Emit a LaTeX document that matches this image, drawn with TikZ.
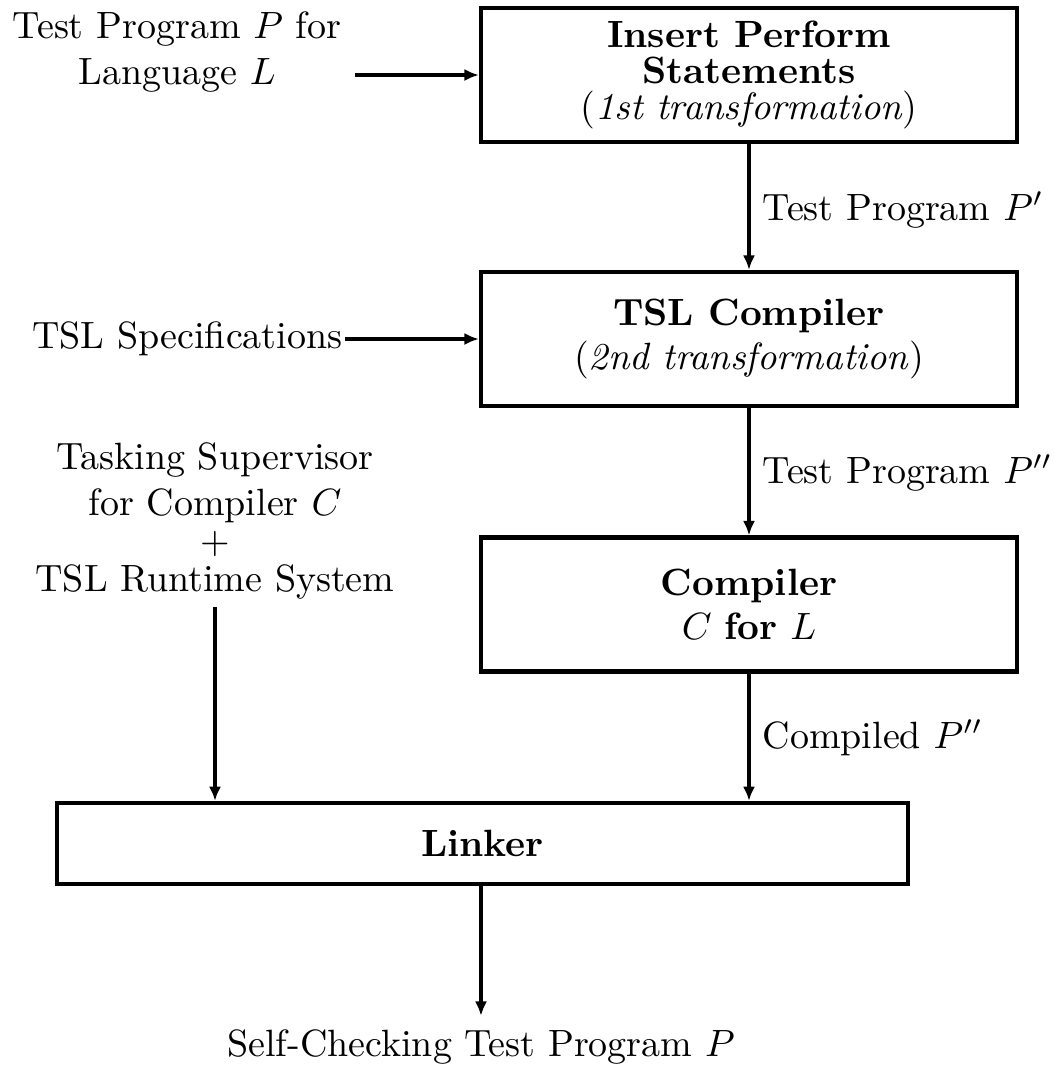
\documentclass[tikz,border=0pt]{standalone}
\usetikzlibrary{arrows.meta}
\begin{document}
\begin{tikzpicture}[x=0.2632pt,y=-0.2632pt,
  font=\fontsize{10}{12}\selectfont,
  proc/.style={draw,line width=1.1pt,minimum width=141.1pt,minimum height=35.3pt,
    align=center,inner sep=0pt},
  flow/.style={line width=1pt,-{Latex[length=3.8pt,width=3.2pt]}},
  lbl/.style={align=center}]
\useasboundingbox (0,0) rectangle (1056,1068);

% processing stages
\node[proc,font=\fontsize{10}{9.4}\selectfont] (b1) at (749,75)
  {\textbf{Insert Perform}\\\textbf{Statements}\\(\textit{1st transformation})};
\node[proc,font=\fontsize{10}{11.4}\selectfont] (b2) at (749,339)
  {\textbf{TSL Compiler}\\(\textit{2nd transformation})};
\node[proc,font=\fontsize{10}{11.4}\selectfont] (b3) at (749,604.5)
  {\textbf{Compiler}\\$C$ \textbf{for} $L$};
\node[proc,minimum width=224pt,minimum height=21.3pt] (linker) at (482.5,843.5)
  {\textbf{Linker}};

% inputs and intermediate products
\node[lbl] (src) at (177,52) {Test Program $P$ for\\Language $L$};
\node[lbl,inner sep=0.5pt,anchor=east] (spec) at (345,339) {TSL Specifications};
\node[lbl,inner sep=2pt] (task) at (215,521)
  {Tasking Supervisor\\for Compiler $C$\\[-2pt]$+$\\[-2pt]TSL Runtime System};
\node[anchor=west,inner sep=0pt] (p1) at (762,210) {Test Program $P'$};
\node[anchor=west,inner sep=0pt] (p2) at (762,473) {Test Program $P''$};
\node[anchor=west,inner sep=0pt] (p3) at (762,738) {Compiled $P''$};
\node[anchor=base] (out) at (481,1056) {Self-Checking Test Program $P$};

% data flow
\draw[flow] (src.east |- b1.west) -- (b1.west);
\draw[flow] (spec.east) -- (b2.west);
\draw[flow] (b1.south) -- (b2.north);
\draw[flow] (b2.south) -- (b3.north);
\draw[flow] (b3.south) -- (b3.south |- linker.north);
\draw[flow] (task.south) -- (task.south |- linker.north);
\draw[flow] (out.north |- linker.south) -- (out.north);
\end{tikzpicture}
\end{document}
